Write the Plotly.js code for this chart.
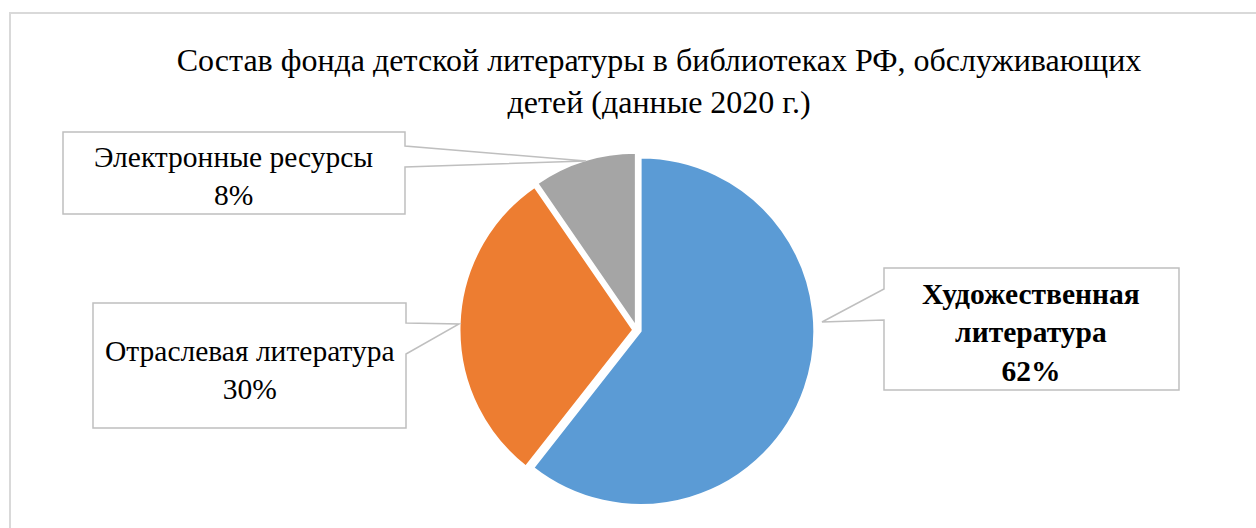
<!DOCTYPE html>
<html>
<head>
<meta charset="utf-8">
<script src="https://cdn.plot.ly/plotly-3.0.1.min.js"></script>
<style>html,body{margin:0;padding:0;background:#fff;}#chart{width:1256px;height:528px;}</style>
</head>
<body>
<div id="chart"></div>
<script>
// Data
const categories = ["Художественная литература", "Отраслевая литература", "Электронные ресурсы"];
const values = [60.6, 29.8, 9.6];           // slice sizes as drawn
const percentLabels = ["62%", "30%", "8%"]; // data-label text as printed
const colors = ["#5B9BD5", "#ED7D31", "#A5A5A5"];
const titleText = "Состав фонда детской литературы в библиотеках РФ, обслуживающих<br>детей (данные 2020 г.)";

const W = 1256, H = 528;
const px = x => x / W;
const py = y => 1 - y / H;
function pathOf(points) {
  return "M " + points.map(p => px(p[0]).toFixed(5) + "," + py(p[1]).toFixed(5)).join(" L ") + " Z";
}

const FONT = "Liberation Serif, Times New Roman, serif";

const trace = {
  type: "pie",
  labels: categories,
  values: values,
  sort: false,
  direction: "clockwise",
  rotation: 0,
  pull: [0.022, 0.022, 0.022],
  marker: {colors: colors, line: {color: "#FFFFFF", width: 2}},
  textinfo: "none",
  hoverinfo: "none",
  showlegend: false,
  domain: {x: [px(459.5), px(814.5)], y: [py(507.5), py(152.5)]}
};

// callout outlines (box + pointer)
const callouts = [
  [[63,132],[405,132],[405,146],[586,161],[405,167],[405,214],[63,214]],
  [[93,303],[406,303],[406,323],[459,324],[406,354],[406,428],[93,428]],
  [[884,268],[1179,268],[1179,390],[884,390],[884,320],[822,322],[884,289]]
];
const shapes = [
  {type: "rect", xref: "paper", yref: "paper", x0: px(10), x1: px(1270), y0: py(545), y1: py(13),
   line: {color: "#D9D9D9", width: 2}, fillcolor: "rgba(0,0,0,0)", layer: "below"}
].concat(callouts.map(c => ({
  type: "path", xref: "paper", yref: "paper", path: pathOf(c),
  line: {color: "#BFBFBF", width: 1.5}, fillcolor: "#FFFFFF", layer: "above"
})));

const labelPos = [[1031, 332], [250, 370], [234, 176]];
const annotations = categories.map((c, i) => {
  let txt;
  if (i === 0) txt = "<b>Художественная<br>литература<br>" + percentLabels[i] + "</b>";
  else txt = c + "<br>" + percentLabels[i];
  return {
    text: txt, xref: "paper", yref: "paper", x: px(labelPos[i][0]), y: py(labelPos[i][1]),
    xanchor: "center", yanchor: "middle", showarrow: false, align: "center",
    font: {family: FONT, size: 29.5, color: "#000000"}
  };
});

const layout = {
  width: W, height: H,
  margin: {l: 0, r: 0, t: 0, b: 0},
  paper_bgcolor: "#FFFFFF",
  plot_bgcolor: "#FFFFFF",
  font: {family: FONT},
  title: {
    text: titleText,
    font: {family: FONT, size: 32, color: "#000000"},
    x: px(659), xanchor: "center",
    y: py(71), yanchor: "middle", yref: "container"
  },
  shapes: shapes,
  annotations: annotations
};

Plotly.newPlot("chart", [trace], layout, {displayModeBar: false, staticPlot: true});
</script>
</body>
</html>
